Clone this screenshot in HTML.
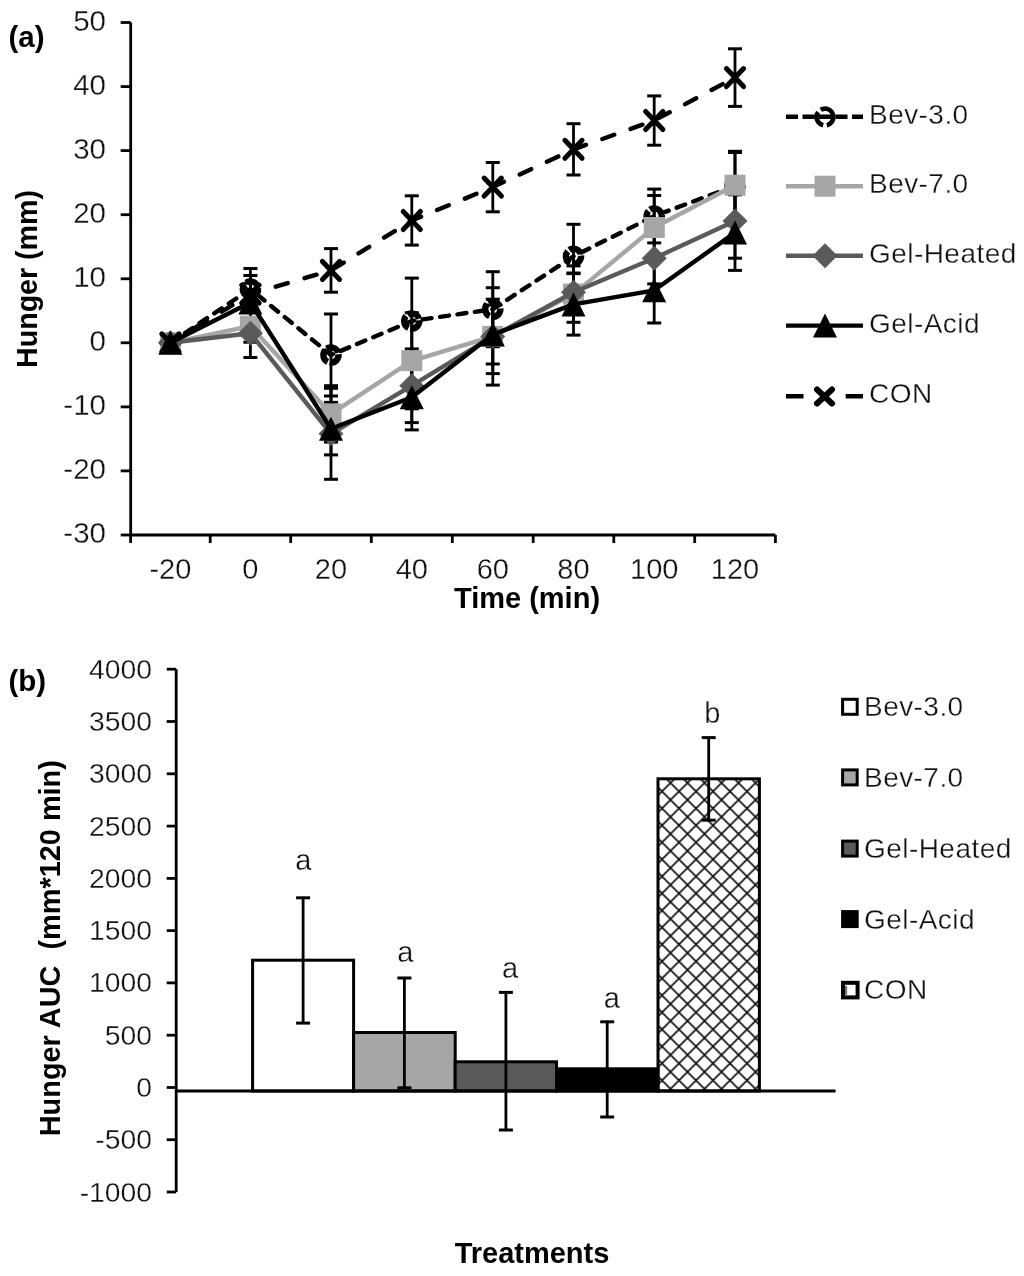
<!DOCTYPE html>
<html><head><meta charset="utf-8"><title>Hunger chart</title>
<style>
html,body{margin:0;padding:0;background:#fff;}
body{width:1024px;height:1276px;overflow:hidden;}
svg{display:block;font-family:"Liberation Sans", sans-serif;filter:blur(0.6px);}
.r{stroke:#fff;stroke-width:0.3px;}
</style></head><body>
<svg width="1024" height="1276" viewBox="0 0 1024 1276"><defs><pattern id="hatch" patternUnits="userSpaceOnUse" width="17" height="17" x="653.5" y="765.9"><path d="M-1,-1 L18,18 M18,-1 L-1,18" stroke="#111" stroke-width="1.7" fill="none"/></pattern></defs><rect width="1024" height="1276" fill="#fff"/><line x1="130.7" y1="22.5" x2="130.7" y2="535.0" stroke="#000" stroke-width="2.8"/><line x1="130.7" y1="535.0" x2="775.4" y2="535.0" stroke="#000" stroke-width="2.8"/><line x1="120.69999999999999" y1="22.5" x2="130.7" y2="22.5" stroke="#000" stroke-width="2.8"/><text x="106" y="30.8" text-anchor="end" font-size="29.5" fill="#111" class="r">50</text><line x1="120.69999999999999" y1="86.6" x2="130.7" y2="86.6" stroke="#000" stroke-width="2.8"/><text x="106" y="94.9" text-anchor="end" font-size="29.5" fill="#111" class="r">40</text><line x1="120.69999999999999" y1="150.6" x2="130.7" y2="150.6" stroke="#000" stroke-width="2.8"/><text x="106" y="158.9" text-anchor="end" font-size="29.5" fill="#111" class="r">30</text><line x1="120.69999999999999" y1="214.7" x2="130.7" y2="214.7" stroke="#000" stroke-width="2.8"/><text x="106" y="223.0" text-anchor="end" font-size="29.5" fill="#111" class="r">20</text><line x1="120.69999999999999" y1="278.8" x2="130.7" y2="278.8" stroke="#000" stroke-width="2.8"/><text x="106" y="287.1" text-anchor="end" font-size="29.5" fill="#111" class="r">10</text><line x1="120.69999999999999" y1="342.8" x2="130.7" y2="342.8" stroke="#000" stroke-width="2.8"/><text x="106" y="351.1" text-anchor="end" font-size="29.5" fill="#111" class="r">0</text><line x1="120.69999999999999" y1="406.9" x2="130.7" y2="406.9" stroke="#000" stroke-width="2.8"/><text x="106" y="415.2" text-anchor="end" font-size="29.5" fill="#111" class="r">-10</text><line x1="120.69999999999999" y1="470.9" x2="130.7" y2="470.9" stroke="#000" stroke-width="2.8"/><text x="106" y="479.2" text-anchor="end" font-size="29.5" fill="#111" class="r">-20</text><line x1="120.69999999999999" y1="535.0" x2="130.7" y2="535.0" stroke="#000" stroke-width="2.8"/><text x="106" y="543.3" text-anchor="end" font-size="29.5" fill="#111" class="r">-30</text><line x1="130.6" y1="535.0" x2="130.6" y2="543.0" stroke="#000" stroke-width="2.8"/><line x1="210.2" y1="535.0" x2="210.2" y2="543.0" stroke="#000" stroke-width="2.8"/><line x1="290.7" y1="535.0" x2="290.7" y2="543.0" stroke="#000" stroke-width="2.8"/><line x1="371.3" y1="535.0" x2="371.3" y2="543.0" stroke="#000" stroke-width="2.8"/><line x1="452.3" y1="535.0" x2="452.3" y2="543.0" stroke="#000" stroke-width="2.8"/><line x1="533.2" y1="535.0" x2="533.2" y2="543.0" stroke="#000" stroke-width="2.8"/><line x1="613.8" y1="535.0" x2="613.8" y2="543.0" stroke="#000" stroke-width="2.8"/><line x1="694.7" y1="535.0" x2="694.7" y2="543.0" stroke="#000" stroke-width="2.8"/><line x1="775.4" y1="535.0" x2="775.4" y2="543.0" stroke="#000" stroke-width="2.8"/><text x="170.4" y="578.5" text-anchor="middle" font-size="29" fill="#111" class="r">-20</text><text x="250.4" y="578.5" text-anchor="middle" font-size="29" fill="#111" class="r">0</text><text x="331.0" y="578.5" text-anchor="middle" font-size="29" fill="#111" class="r">20</text><text x="411.8" y="578.5" text-anchor="middle" font-size="29" fill="#111" class="r">40</text><text x="492.8" y="578.5" text-anchor="middle" font-size="29" fill="#111" class="r">60</text><text x="573.5" y="578.5" text-anchor="middle" font-size="29" fill="#111" class="r">80</text><text x="654.2" y="578.5" text-anchor="middle" font-size="29" fill="#111" class="r">100</text><text x="735.0" y="578.5" text-anchor="middle" font-size="29" fill="#111" class="r">120</text><text x="527" y="607.5" text-anchor="middle" font-size="29" font-weight="bold" fill="#000">Time (min)</text><text transform="translate(36.8,279) rotate(-90)" text-anchor="middle" font-size="28.6" font-weight="bold" fill="#000">Hunger (mm)</text><text x="8.5" y="47" font-size="29.5" font-weight="bold" fill="#000">(a)</text><line x1="170.4" y1="336.4" x2="170.4" y2="349.2" stroke="#000" stroke-width="2.8"/><line x1="163.4" y1="336.4" x2="177.4" y2="336.4" stroke="#000" stroke-width="3.0"/><line x1="163.4" y1="349.2" x2="177.4" y2="349.2" stroke="#000" stroke-width="3.0"/><line x1="250.4" y1="275.5" x2="250.4" y2="302.5" stroke="#000" stroke-width="2.8"/><line x1="243.4" y1="275.5" x2="257.4" y2="275.5" stroke="#000" stroke-width="3.0"/><line x1="243.4" y1="302.5" x2="257.4" y2="302.5" stroke="#000" stroke-width="3.0"/><line x1="331.0" y1="314.0" x2="331.0" y2="396.0" stroke="#000" stroke-width="2.8"/><line x1="324.0" y1="314.0" x2="338.0" y2="314.0" stroke="#000" stroke-width="3.0"/><line x1="324.0" y1="396.0" x2="338.0" y2="396.0" stroke="#000" stroke-width="3.0"/><line x1="411.8" y1="278.1" x2="411.8" y2="364.0" stroke="#000" stroke-width="2.8"/><line x1="404.8" y1="278.1" x2="418.8" y2="278.1" stroke="#000" stroke-width="3.0"/><line x1="404.8" y1="364.0" x2="418.8" y2="364.0" stroke="#000" stroke-width="3.0"/><line x1="492.8" y1="271.7" x2="492.8" y2="346.7" stroke="#000" stroke-width="2.8"/><line x1="485.8" y1="271.7" x2="499.8" y2="271.7" stroke="#000" stroke-width="3.0"/><line x1="485.8" y1="346.7" x2="499.8" y2="346.7" stroke="#000" stroke-width="3.0"/><line x1="573.5" y1="224.3" x2="573.5" y2="288.4" stroke="#000" stroke-width="2.8"/><line x1="566.5" y1="224.3" x2="580.5" y2="224.3" stroke="#000" stroke-width="3.0"/><line x1="566.5" y1="288.4" x2="580.5" y2="288.4" stroke="#000" stroke-width="3.0"/><line x1="654.2" y1="189.1" x2="654.2" y2="242.9" stroke="#000" stroke-width="2.8"/><line x1="647.2" y1="189.1" x2="661.2" y2="189.1" stroke="#000" stroke-width="3.0"/><line x1="647.2" y1="242.9" x2="661.2" y2="242.9" stroke="#000" stroke-width="3.0"/><line x1="735.0" y1="152.5" x2="735.0" y2="219.2" stroke="#000" stroke-width="2.8"/><line x1="728.0" y1="152.5" x2="742.0" y2="152.5" stroke="#000" stroke-width="3.0"/><line x1="728.0" y1="219.2" x2="742.0" y2="219.2" stroke="#000" stroke-width="3.0"/><line x1="170.4" y1="337.7" x2="170.4" y2="347.9" stroke="#000" stroke-width="2.8"/><line x1="163.4" y1="337.7" x2="177.4" y2="337.7" stroke="#000" stroke-width="3.0"/><line x1="163.4" y1="347.9" x2="177.4" y2="347.9" stroke="#000" stroke-width="3.0"/><line x1="250.4" y1="310.1" x2="250.4" y2="342.2" stroke="#000" stroke-width="2.8"/><line x1="243.4" y1="310.1" x2="257.4" y2="310.1" stroke="#000" stroke-width="3.0"/><line x1="243.4" y1="342.2" x2="257.4" y2="342.2" stroke="#000" stroke-width="3.0"/><line x1="331.0" y1="385.7" x2="331.0" y2="442.1" stroke="#000" stroke-width="2.8"/><line x1="324.0" y1="385.7" x2="338.0" y2="385.7" stroke="#000" stroke-width="3.0"/><line x1="324.0" y1="442.1" x2="338.0" y2="442.1" stroke="#000" stroke-width="3.0"/><line x1="411.8" y1="312.7" x2="411.8" y2="408.8" stroke="#000" stroke-width="2.8"/><line x1="404.8" y1="312.7" x2="418.8" y2="312.7" stroke="#000" stroke-width="3.0"/><line x1="404.8" y1="408.8" x2="418.8" y2="408.8" stroke="#000" stroke-width="3.0"/><line x1="492.8" y1="287.7" x2="492.8" y2="385.1" stroke="#000" stroke-width="2.8"/><line x1="485.8" y1="287.7" x2="499.8" y2="287.7" stroke="#000" stroke-width="3.0"/><line x1="485.8" y1="385.1" x2="499.8" y2="385.1" stroke="#000" stroke-width="3.0"/><line x1="573.5" y1="265.9" x2="573.5" y2="322.3" stroke="#000" stroke-width="2.8"/><line x1="566.5" y1="265.9" x2="580.5" y2="265.9" stroke="#000" stroke-width="3.0"/><line x1="566.5" y1="322.3" x2="580.5" y2="322.3" stroke="#000" stroke-width="3.0"/><line x1="654.2" y1="195.5" x2="654.2" y2="259.5" stroke="#000" stroke-width="2.8"/><line x1="647.2" y1="195.5" x2="661.2" y2="195.5" stroke="#000" stroke-width="3.0"/><line x1="647.2" y1="259.5" x2="661.2" y2="259.5" stroke="#000" stroke-width="3.0"/><line x1="735.0" y1="151.3" x2="735.0" y2="219.2" stroke="#000" stroke-width="2.8"/><line x1="728.0" y1="151.3" x2="742.0" y2="151.3" stroke="#000" stroke-width="3.0"/><line x1="728.0" y1="219.2" x2="742.0" y2="219.2" stroke="#000" stroke-width="3.0"/><line x1="170.4" y1="337.7" x2="170.4" y2="347.9" stroke="#000" stroke-width="2.8"/><line x1="163.4" y1="337.7" x2="177.4" y2="337.7" stroke="#000" stroke-width="3.0"/><line x1="163.4" y1="347.9" x2="177.4" y2="347.9" stroke="#000" stroke-width="3.0"/><line x1="250.4" y1="308.9" x2="250.4" y2="357.5" stroke="#000" stroke-width="2.8"/><line x1="243.4" y1="308.9" x2="257.4" y2="308.9" stroke="#000" stroke-width="3.0"/><line x1="243.4" y1="357.5" x2="257.4" y2="357.5" stroke="#000" stroke-width="3.0"/><line x1="331.0" y1="388.3" x2="331.0" y2="479.3" stroke="#000" stroke-width="2.8"/><line x1="324.0" y1="388.3" x2="338.0" y2="388.3" stroke="#000" stroke-width="3.0"/><line x1="324.0" y1="479.3" x2="338.0" y2="479.3" stroke="#000" stroke-width="3.0"/><line x1="411.8" y1="348.9" x2="411.8" y2="422.6" stroke="#000" stroke-width="2.8"/><line x1="404.8" y1="348.9" x2="418.8" y2="348.9" stroke="#000" stroke-width="3.0"/><line x1="404.8" y1="422.6" x2="418.8" y2="422.6" stroke="#000" stroke-width="3.0"/><line x1="492.8" y1="299.2" x2="492.8" y2="373.6" stroke="#000" stroke-width="2.8"/><line x1="485.8" y1="299.2" x2="499.8" y2="299.2" stroke="#000" stroke-width="3.0"/><line x1="485.8" y1="373.6" x2="499.8" y2="373.6" stroke="#000" stroke-width="3.0"/><line x1="573.5" y1="273.0" x2="573.5" y2="311.4" stroke="#000" stroke-width="2.8"/><line x1="566.5" y1="273.0" x2="580.5" y2="273.0" stroke="#000" stroke-width="3.0"/><line x1="566.5" y1="311.4" x2="580.5" y2="311.4" stroke="#000" stroke-width="3.0"/><line x1="654.2" y1="232.6" x2="654.2" y2="283.9" stroke="#000" stroke-width="2.8"/><line x1="647.2" y1="232.6" x2="661.2" y2="232.6" stroke="#000" stroke-width="3.0"/><line x1="647.2" y1="283.9" x2="661.2" y2="283.9" stroke="#000" stroke-width="3.0"/><line x1="735.0" y1="183.9" x2="735.0" y2="258.2" stroke="#000" stroke-width="2.8"/><line x1="728.0" y1="183.9" x2="742.0" y2="183.9" stroke="#000" stroke-width="3.0"/><line x1="728.0" y1="258.2" x2="742.0" y2="258.2" stroke="#000" stroke-width="3.0"/><line x1="170.4" y1="337.7" x2="170.4" y2="347.9" stroke="#000" stroke-width="2.8"/><line x1="163.4" y1="337.7" x2="177.4" y2="337.7" stroke="#000" stroke-width="3.0"/><line x1="163.4" y1="347.9" x2="177.4" y2="347.9" stroke="#000" stroke-width="3.0"/><line x1="250.4" y1="283.2" x2="250.4" y2="321.7" stroke="#000" stroke-width="2.8"/><line x1="243.4" y1="283.2" x2="257.4" y2="283.2" stroke="#000" stroke-width="3.0"/><line x1="243.4" y1="321.7" x2="257.4" y2="321.7" stroke="#000" stroke-width="3.0"/><line x1="331.0" y1="402.4" x2="331.0" y2="454.9" stroke="#000" stroke-width="2.8"/><line x1="324.0" y1="402.4" x2="338.0" y2="402.4" stroke="#000" stroke-width="3.0"/><line x1="324.0" y1="454.9" x2="338.0" y2="454.9" stroke="#000" stroke-width="3.0"/><line x1="411.8" y1="364.6" x2="411.8" y2="429.9" stroke="#000" stroke-width="2.8"/><line x1="404.8" y1="364.6" x2="418.8" y2="364.6" stroke="#000" stroke-width="3.0"/><line x1="404.8" y1="429.9" x2="418.8" y2="429.9" stroke="#000" stroke-width="3.0"/><line x1="492.8" y1="305.0" x2="492.8" y2="364.0" stroke="#000" stroke-width="2.8"/><line x1="485.8" y1="305.0" x2="499.8" y2="305.0" stroke="#000" stroke-width="3.0"/><line x1="485.8" y1="364.0" x2="499.8" y2="364.0" stroke="#000" stroke-width="3.0"/><line x1="573.5" y1="273.6" x2="573.5" y2="335.1" stroke="#000" stroke-width="2.8"/><line x1="566.5" y1="273.6" x2="580.5" y2="273.6" stroke="#000" stroke-width="3.0"/><line x1="566.5" y1="335.1" x2="580.5" y2="335.1" stroke="#000" stroke-width="3.0"/><line x1="654.2" y1="257.6" x2="654.2" y2="323.0" stroke="#000" stroke-width="2.8"/><line x1="647.2" y1="257.6" x2="661.2" y2="257.6" stroke="#000" stroke-width="3.0"/><line x1="647.2" y1="323.0" x2="661.2" y2="323.0" stroke="#000" stroke-width="3.0"/><line x1="735.0" y1="194.8" x2="735.0" y2="270.4" stroke="#000" stroke-width="2.8"/><line x1="728.0" y1="194.8" x2="742.0" y2="194.8" stroke="#000" stroke-width="3.0"/><line x1="728.0" y1="270.4" x2="742.0" y2="270.4" stroke="#000" stroke-width="3.0"/><line x1="170.4" y1="336.4" x2="170.4" y2="349.2" stroke="#000" stroke-width="2.8"/><line x1="163.4" y1="336.4" x2="177.4" y2="336.4" stroke="#000" stroke-width="3.0"/><line x1="163.4" y1="349.2" x2="177.4" y2="349.2" stroke="#000" stroke-width="3.0"/><line x1="250.4" y1="268.5" x2="250.4" y2="319.8" stroke="#000" stroke-width="2.8"/><line x1="243.4" y1="268.5" x2="257.4" y2="268.5" stroke="#000" stroke-width="3.0"/><line x1="243.4" y1="319.8" x2="257.4" y2="319.8" stroke="#000" stroke-width="3.0"/><line x1="331.0" y1="248.6" x2="331.0" y2="292.2" stroke="#000" stroke-width="2.8"/><line x1="324.0" y1="248.6" x2="338.0" y2="248.6" stroke="#000" stroke-width="3.0"/><line x1="324.0" y1="292.2" x2="338.0" y2="292.2" stroke="#000" stroke-width="3.0"/><line x1="411.8" y1="195.8" x2="411.8" y2="245.1" stroke="#000" stroke-width="2.8"/><line x1="404.8" y1="195.8" x2="418.8" y2="195.8" stroke="#000" stroke-width="3.0"/><line x1="404.8" y1="245.1" x2="418.8" y2="245.1" stroke="#000" stroke-width="3.0"/><line x1="492.8" y1="162.5" x2="492.8" y2="211.8" stroke="#000" stroke-width="2.8"/><line x1="485.8" y1="162.5" x2="499.8" y2="162.5" stroke="#000" stroke-width="3.0"/><line x1="485.8" y1="211.8" x2="499.8" y2="211.8" stroke="#000" stroke-width="3.0"/><line x1="573.5" y1="123.7" x2="573.5" y2="175.0" stroke="#000" stroke-width="2.8"/><line x1="566.5" y1="123.7" x2="580.5" y2="123.7" stroke="#000" stroke-width="3.0"/><line x1="566.5" y1="175.0" x2="580.5" y2="175.0" stroke="#000" stroke-width="3.0"/><line x1="654.2" y1="95.9" x2="654.2" y2="145.2" stroke="#000" stroke-width="2.8"/><line x1="647.2" y1="95.9" x2="661.2" y2="95.9" stroke="#000" stroke-width="3.0"/><line x1="647.2" y1="145.2" x2="661.2" y2="145.2" stroke="#000" stroke-width="3.0"/><line x1="735.0" y1="48.8" x2="735.0" y2="106.4" stroke="#000" stroke-width="2.8"/><line x1="728.0" y1="48.8" x2="742.0" y2="48.8" stroke="#000" stroke-width="3.0"/><line x1="728.0" y1="106.4" x2="742.0" y2="106.4" stroke="#000" stroke-width="3.0"/><polyline points="170.4,342.8 250.4,289.0 331.0,355.0 411.8,321.0 492.8,309.2 573.5,256.3 654.2,216.0 735.0,185.9" fill="none" stroke="#000" stroke-width="4.4" stroke-linejoin="round" stroke-dasharray="9 8.6" stroke-linecap="round" stroke-dashoffset="0"/><circle cx="170.4" cy="342.8" r="7.6" fill="none" stroke="#000" stroke-width="6.4" stroke-dasharray="13.9 2" transform="rotate(-5 170.4 342.8)"/><circle cx="250.4" cy="289.0" r="7.6" fill="none" stroke="#000" stroke-width="6.4" stroke-dasharray="13.9 2" transform="rotate(-5 250.4 289.0)"/><circle cx="331.0" cy="355.0" r="7.6" fill="none" stroke="#000" stroke-width="6.4" stroke-dasharray="13.9 2" transform="rotate(-5 331.0 355.0)"/><circle cx="411.8" cy="321.0" r="7.6" fill="none" stroke="#000" stroke-width="6.4" stroke-dasharray="13.9 2" transform="rotate(-5 411.8 321.0)"/><circle cx="492.8" cy="309.2" r="7.6" fill="none" stroke="#000" stroke-width="6.4" stroke-dasharray="13.9 2" transform="rotate(-5 492.8 309.2)"/><circle cx="573.5" cy="256.3" r="7.6" fill="none" stroke="#000" stroke-width="6.4" stroke-dasharray="13.9 2" transform="rotate(-5 573.5 256.3)"/><circle cx="654.2" cy="216.0" r="7.6" fill="none" stroke="#000" stroke-width="6.4" stroke-dasharray="13.9 2" transform="rotate(-5 654.2 216.0)"/><circle cx="735.0" cy="185.9" r="7.6" fill="none" stroke="#000" stroke-width="6.4" stroke-dasharray="13.9 2" transform="rotate(-5 735.0 185.9)"/><polyline points="170.4,342.8 250.4,326.2 331.0,413.9 411.8,360.8 492.8,336.4 573.5,294.1 654.2,227.5 735.0,185.2" fill="none" stroke="#a6a6a6" stroke-width="4.4" stroke-linejoin="round"/><rect x="159.9" y="332.3" width="21.0" height="21.0" fill="#a6a6a6"/><rect x="239.9" y="315.7" width="21.0" height="21.0" fill="#a6a6a6"/><rect x="320.5" y="403.4" width="21.0" height="21.0" fill="#a6a6a6"/><rect x="401.3" y="350.2" width="21.0" height="21.0" fill="#a6a6a6"/><rect x="482.2" y="325.9" width="21.0" height="21.0" fill="#a6a6a6"/><rect x="563.0" y="283.6" width="21.0" height="21.0" fill="#a6a6a6"/><rect x="643.8" y="217.0" width="21.0" height="21.0" fill="#a6a6a6"/><rect x="724.5" y="174.7" width="21.0" height="21.0" fill="#a6a6a6"/><polyline points="170.4,342.8 250.4,333.2 331.0,433.8 411.8,385.7 492.8,336.4 573.5,292.2 654.2,258.2 735.0,221.1" fill="none" stroke="#5a5a5a" stroke-width="4.4" stroke-linejoin="round"/><polygon points="170.4,330.3 182.9,342.8 170.4,355.3 157.9,342.8" fill="#5a5a5a"/><polygon points="250.4,320.7 262.9,333.2 250.4,345.7 237.9,333.2" fill="#5a5a5a"/><polygon points="331.0,421.3 343.5,433.8 331.0,446.3 318.5,433.8" fill="#5a5a5a"/><polygon points="411.8,373.2 424.3,385.7 411.8,398.2 399.3,385.7" fill="#5a5a5a"/><polygon points="492.8,323.9 505.2,336.4 492.8,348.9 480.2,336.4" fill="#5a5a5a"/><polygon points="573.5,279.7 586.0,292.2 573.5,304.7 561.0,292.2" fill="#5a5a5a"/><polygon points="654.2,245.8 666.8,258.2 654.2,270.8 641.8,258.2" fill="#5a5a5a"/><polygon points="735.0,208.6 747.5,221.1 735.0,233.6 722.5,221.1" fill="#5a5a5a"/><polyline points="170.4,342.8 250.4,302.5 331.0,428.7 411.8,397.3 492.8,334.5 573.5,304.4 654.2,290.3 735.0,232.6" fill="none" stroke="#000" stroke-width="4.4" stroke-linejoin="round"/><polygon points="170.4,330.8 182.4,354.8 158.4,354.8" fill="#000"/><polygon points="250.4,290.5 262.4,314.5 238.4,314.5" fill="#000"/><polygon points="331.0,416.7 343.0,440.7 319.0,440.7" fill="#000"/><polygon points="411.8,385.3 423.8,409.3 399.8,409.3" fill="#000"/><polygon points="492.8,322.5 504.8,346.5 480.8,346.5" fill="#000"/><polygon points="573.5,292.4 585.5,316.4 561.5,316.4" fill="#000"/><polygon points="654.2,278.3 666.2,302.3 642.2,302.3" fill="#000"/><polygon points="735.0,220.6 747.0,244.6 723.0,244.6" fill="#000"/><polyline points="170.4,342.8 250.4,294.1 331.0,270.4 411.8,220.5 492.8,187.1 573.5,149.3 654.2,120.5 735.0,77.6" fill="none" stroke="#000" stroke-width="4.4" stroke-linejoin="round" stroke-dasharray="12.6 17.4" stroke-linecap="round" stroke-dashoffset="0"/><path d="M161.8,333.8 L179.0,351.8 M179.0,333.8 L161.8,351.8" stroke="#000" stroke-width="5.0" stroke-linecap="round" fill="none"/><path d="M241.8,285.1 L259.1,303.1 M259.1,285.1 L241.8,303.1" stroke="#000" stroke-width="5.0" stroke-linecap="round" fill="none"/><path d="M322.4,261.4 L339.6,279.4 M339.6,261.4 L322.4,279.4" stroke="#000" stroke-width="5.0" stroke-linecap="round" fill="none"/><path d="M403.2,211.5 L420.4,229.5 M420.4,211.5 L403.2,229.5" stroke="#000" stroke-width="5.0" stroke-linecap="round" fill="none"/><path d="M484.1,178.1 L501.4,196.1 M501.4,178.1 L484.1,196.1" stroke="#000" stroke-width="5.0" stroke-linecap="round" fill="none"/><path d="M564.9,140.3 L582.1,158.3 M582.1,140.3 L564.9,158.3" stroke="#000" stroke-width="5.0" stroke-linecap="round" fill="none"/><path d="M645.6,111.5 L662.9,129.5 M662.9,111.5 L645.6,129.5" stroke="#000" stroke-width="5.0" stroke-linecap="round" fill="none"/><path d="M726.4,68.6 L743.6,86.6 M743.6,68.6 L726.4,86.6" stroke="#000" stroke-width="5.0" stroke-linecap="round" fill="none"/><line x1="786" y1="116.7" x2="863" y2="116.7" stroke="#000" stroke-width="4.4" stroke-dasharray="12 4.5"/><circle cx="825.0" cy="117.0" r="8.4" fill="none" stroke="#000" stroke-width="4.6" stroke-dasharray="16.4 3.6" transform="rotate(-35 825.0 117.0)"/><line x1="786" y1="186.2" x2="863" y2="186.2" stroke="#a6a6a6" stroke-width="4.4"/><rect x="814.5" y="175.7" width="21.0" height="21.0" fill="#a6a6a6"/><line x1="786" y1="255.7" x2="863" y2="255.7" stroke="#5a5a5a" stroke-width="4.4"/><polygon points="825.0,243.2 837.5,255.7 825.0,268.2 812.5,255.7" fill="#5a5a5a"/><line x1="786" y1="325.6" x2="863" y2="325.6" stroke="#000" stroke-width="4.4"/><polygon points="825.0,313.6 837.0,337.6 813.0,337.6" fill="#000"/><line x1="786" y1="396.2" x2="863" y2="396.2" stroke="#000" stroke-width="4.4" stroke-dasharray="17.5 42.2 18"/><path d="M817.0,389.5 L832.0,403.5 M832.0,389.5 L817.0,403.5" stroke="#000" stroke-width="6.0" stroke-linecap="round" fill="none"/><text x="869.0" y="123.9" font-size="28" letter-spacing="0.45" fill="#111" class="r">Bev-3.0</text><text x="869.0" y="193.4" font-size="28" letter-spacing="0.45" fill="#111" class="r">Bev-7.0</text><text x="869.0" y="262.9" font-size="28" letter-spacing="0.45" fill="#111" class="r">Gel-Heated</text><text x="869.0" y="332.8" font-size="28" letter-spacing="0.45" fill="#111" class="r">Gel-Acid</text><text x="869.0" y="403.4" font-size="28" letter-spacing="0.45" fill="#111" class="r">CON</text><line x1="176.2" y1="669.25" x2="176.2" y2="1192.0" stroke="#000" stroke-width="2.8"/><line x1="166.7" y1="669.2" x2="176.2" y2="669.2" stroke="#000" stroke-width="2.8"/><text x="152" y="678.8" text-anchor="end" font-size="28.3" fill="#111" class="r">4000</text><line x1="166.7" y1="721.5" x2="176.2" y2="721.5" stroke="#000" stroke-width="2.8"/><text x="152" y="731.0" text-anchor="end" font-size="28.3" fill="#111" class="r">3500</text><line x1="166.7" y1="773.8" x2="176.2" y2="773.8" stroke="#000" stroke-width="2.8"/><text x="152" y="783.3" text-anchor="end" font-size="28.3" fill="#111" class="r">3000</text><line x1="166.7" y1="826.1" x2="176.2" y2="826.1" stroke="#000" stroke-width="2.8"/><text x="152" y="835.6" text-anchor="end" font-size="28.3" fill="#111" class="r">2500</text><line x1="166.7" y1="878.4" x2="176.2" y2="878.4" stroke="#000" stroke-width="2.8"/><text x="152" y="887.9" text-anchor="end" font-size="28.3" fill="#111" class="r">2000</text><line x1="166.7" y1="930.6" x2="176.2" y2="930.6" stroke="#000" stroke-width="2.8"/><text x="152" y="940.1" text-anchor="end" font-size="28.3" fill="#111" class="r">1500</text><line x1="166.7" y1="982.9" x2="176.2" y2="982.9" stroke="#000" stroke-width="2.8"/><text x="152" y="992.4" text-anchor="end" font-size="28.3" fill="#111" class="r">1000</text><line x1="166.7" y1="1035.2" x2="176.2" y2="1035.2" stroke="#000" stroke-width="2.8"/><text x="152" y="1044.7" text-anchor="end" font-size="28.3" fill="#111" class="r">500</text><line x1="166.7" y1="1087.5" x2="176.2" y2="1087.5" stroke="#000" stroke-width="2.8"/><text x="152" y="1097.0" text-anchor="end" font-size="28.3" fill="#111" class="r">0</text><line x1="166.7" y1="1139.7" x2="176.2" y2="1139.7" stroke="#000" stroke-width="2.8"/><text x="152" y="1149.2" text-anchor="end" font-size="28.3" fill="#111" class="r">-500</text><line x1="166.7" y1="1192.0" x2="176.2" y2="1192.0" stroke="#000" stroke-width="2.8"/><text x="152" y="1201.5" text-anchor="end" font-size="28.3" fill="#111" class="r">-1000</text><rect x="252.6" y="960.2" width="101.0" height="130.8" fill="#fff" stroke="#000" stroke-width="3"/><rect x="353.6" y="1032.5" width="101.6" height="58.5" fill="#a6a6a6" stroke="#000" stroke-width="3"/><rect x="455.2" y="1061.8" width="101.3" height="29.2" fill="#5a5a5a" stroke="#000" stroke-width="3"/><rect x="556.5" y="1068.8" width="101.5" height="22.2" fill="#000" stroke="#000" stroke-width="3"/><rect x="658.0" y="778.8" width="101.4" height="312.2" fill="url(#hatch)" stroke="#000" stroke-width="3"/><line x1="176.2" y1="1091.0" x2="835.6" y2="1091.0" stroke="#000" stroke-width="3"/><line x1="303.1" y1="897.8" x2="303.1" y2="1023.1" stroke="#000" stroke-width="2.8"/><line x1="296.1" y1="897.8" x2="310.1" y2="897.8" stroke="#000" stroke-width="3.0"/><line x1="296.1" y1="1023.1" x2="310.1" y2="1023.1" stroke="#000" stroke-width="3.0"/><text x="303.3" y="870.0" text-anchor="middle" font-size="29" fill="#111" class="r">a</text><line x1="404.4" y1="978.0" x2="404.4" y2="1087.8" stroke="#000" stroke-width="2.8"/><line x1="397.4" y1="978.0" x2="411.4" y2="978.0" stroke="#000" stroke-width="3.0"/><line x1="397.4" y1="1087.8" x2="411.4" y2="1087.8" stroke="#000" stroke-width="3.0"/><text x="405.4" y="961.7" text-anchor="middle" font-size="29" fill="#111" class="r">a</text><line x1="505.9" y1="992.4" x2="505.9" y2="1130.0" stroke="#000" stroke-width="2.8"/><line x1="498.9" y1="992.4" x2="512.9" y2="992.4" stroke="#000" stroke-width="3.0"/><line x1="498.9" y1="1130.0" x2="512.9" y2="1130.0" stroke="#000" stroke-width="3.0"/><text x="510.1" y="977.7" text-anchor="middle" font-size="29" fill="#111" class="r">a</text><line x1="607.2" y1="1021.8" x2="607.2" y2="1117.0" stroke="#000" stroke-width="2.8"/><line x1="600.2" y1="1021.8" x2="614.2" y2="1021.8" stroke="#000" stroke-width="3.0"/><line x1="600.2" y1="1117.0" x2="614.2" y2="1117.0" stroke="#000" stroke-width="3.0"/><text x="611.7" y="1008.2" text-anchor="middle" font-size="29" fill="#111" class="r">a</text><line x1="708.7" y1="737.6" x2="708.7" y2="820.2" stroke="#000" stroke-width="2.8"/><line x1="701.7" y1="737.6" x2="715.7" y2="737.6" stroke="#000" stroke-width="3.0"/><line x1="701.7" y1="820.2" x2="715.7" y2="820.2" stroke="#000" stroke-width="3.0"/><text x="712.3" y="722.5" text-anchor="middle" font-size="29" fill="#111" class="r">b</text><text x="532" y="1263" text-anchor="middle" font-size="29" font-weight="bold" fill="#000">Treatments</text><text transform="translate(60,948.2) rotate(-90)" text-anchor="middle" font-size="28.9" font-weight="bold" fill="#000" xml:space="preserve" style="white-space:pre">Hunger AUC  (mm*120 min)</text><text x="8.5" y="690.5" font-size="29.5" font-weight="bold" fill="#000">(b)</text><defs><pattern id="hatchs" patternUnits="userSpaceOnUse" width="8" height="8"><path d="M0,0 L8,8 M8,0 L0,8" stroke="#222" stroke-width="1.2"/></pattern></defs><rect x="842.6" y="699.3" width="14.6" height="15" fill="#fff" stroke="#000" stroke-width="3"/><text x="864" y="716.2" font-size="28" letter-spacing="0.45" fill="#111" class="r">Bev-3.0</text><rect x="842.6" y="769.9" width="14.6" height="15" fill="#a6a6a6" stroke="#000" stroke-width="3"/><text x="864" y="786.8" font-size="28" letter-spacing="0.45" fill="#111" class="r">Bev-7.0</text><rect x="842.6" y="841.1" width="14.6" height="15" fill="#5a5a5a" stroke="#000" stroke-width="3"/><text x="864" y="858.0" font-size="28" letter-spacing="0.45" fill="#111" class="r">Gel-Heated</text><rect x="842.6" y="911.6" width="14.6" height="15" fill="#000" stroke="#000" stroke-width="3"/><text x="864" y="928.5" font-size="28" letter-spacing="0.45" fill="#111" class="r">Gel-Acid</text><rect x="843" y="982.8" width="14.6" height="14.6" fill="#fff" stroke="#000" stroke-width="4"/><rect x="845" y="985.8" width="2.2" height="9" fill="#777"/><text x="864" y="999.0" font-size="28" letter-spacing="0.45" fill="#111" class="r">CON</text></svg>
</body></html>
